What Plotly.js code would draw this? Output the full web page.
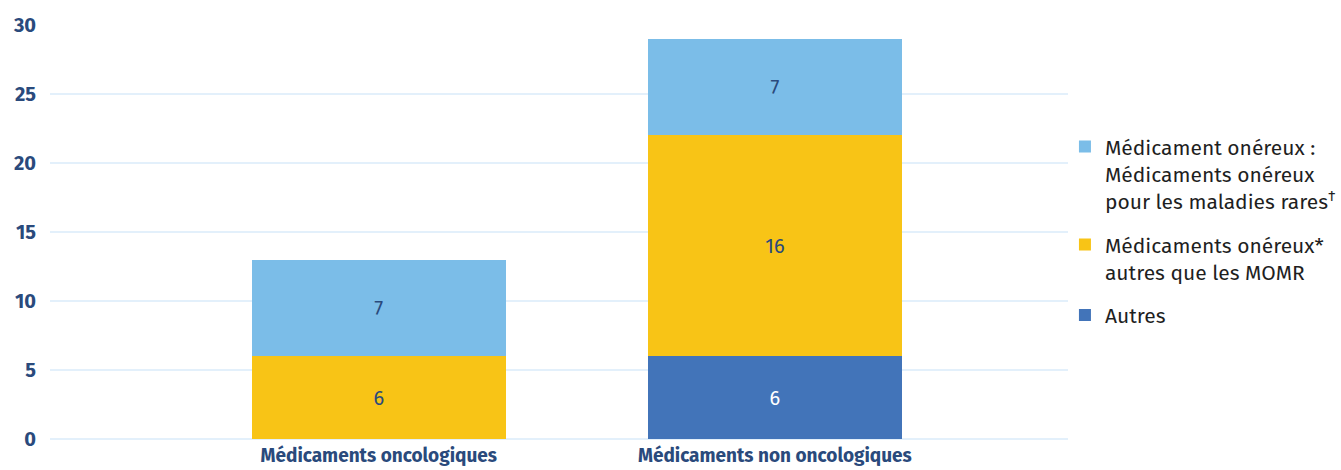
<!DOCTYPE html>
<html><head><meta charset="utf-8">
<script src="https://cdn.plot.ly/plotly-3.0.1.min.js"></script>
<style>html,body{margin:0;padding:0;background:#fff}</style>
</head><body><div id="chart" style="width:1341px;height:470px"></div>
<script>
const categories = ["Médicaments oncologiques", "Médicaments non oncologiques"];
const autres = [0, 6];
const onereuxAutres = [6, 16];
const onereuxRares = [7, 7];
const seriesNames = ["Autres", "Médicaments onéreux*<br>autres que les MOMR", "Médicament onéreux :<br>Médicaments onéreux<br>pour les maladies rares<sup>†</sup>"];
const yTicks = [0, 5, 10, 15, 20, 25, 30];

const FONT = "Fira Sans, Roboto, sans-serif";
const DARK = "#2a4a7c";
function tr(vals, name, color, textColor, group, rank) {
  return {
    type: "bar", x: categories, y: vals, name: name, legendgroup: group, legendrank: rank,
    marker: {color: color, line: {width: 0}},
    text: vals.map(v => v === 0 ? "" : String(v)),
    textposition: "inside", insidetextanchor: "middle",
    textfont: {family: FONT, size: 20, color: textColor},
    width: 0.64, hoverinfo: "skip"
  };
}
const data = [
  tr(autres, seriesNames[0], "#4274b9", "#ffffff", "g1", 3),
  tr(onereuxAutres, seriesNames[1], "#f8c416", DARK, "g2", 2),
  tr(onereuxRares, seriesNames[2], "#7bbde8", DARK, "g3", 1)
];
const layout = {
  width: 1341, height: 470,
  margin: {l: 50, r: 273, t: 25, b: 31, autoexpand: false},
  barmode: "stack",
  paper_bgcolor: "#fff", plot_bgcolor: "#fff",
  font: {family: FONT, color: DARK},
  xaxis: {range: [-0.83, 1.74], showgrid: false, zeroline: false, showline: false, automargin: false,
          ticks: "", ticklabelstandoff: 3, tickfont: {family: FONT, size: 19, color: DARK, weight: "bold"}},
  yaxis: {range: [0, 30], tickvals: yTicks, ticktext: yTicks.map(String), gridcolor: "#e3f0fb", gridwidth: 2,
          zeroline: true, zerolinecolor: "#e3f0fb", zerolinewidth: 2, showline: false, ticks: "",
          ticklabelstandoff: 13, automargin: false,
          tickfont: {family: FONT, size: 20, color: DARK, weight: "bold"}},
  legend: {x: 0.997, xanchor: "left", y: 0.755, yanchor: "top", traceorder: "grouped", valign: "top",
           font: {family: FONT, size: 21, color: "#1f1f1f"}, itemwidth: 30, tracegroupgap: 13,
           bgcolor: "rgba(0,0,0,0)"},
  showlegend: true
};
Plotly.newPlot("chart", data, layout, {displayModeBar: false, staticPlot: true});
</script></body></html>
